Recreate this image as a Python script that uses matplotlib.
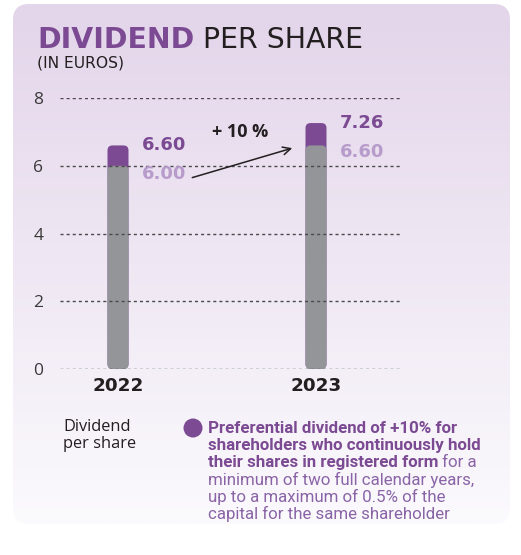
import numpy as np
import matplotlib.pyplot as plt
from matplotlib.patches import FancyBboxPatch, Circle

plt.rcParams['font.family'] = ['Open Sans', 'DejaVu Sans']
WIDE = ['DejaVu Sans']
LEG = ['Roboto', 'DejaVu Sans']

# ---------------------------
# data
# ---------------------------
years = ["2022", "2023"]
dividend = [6.00, 6.60]       # ordinary dividend per share
preferential = [6.60, 7.26]   # with +10% loyalty premium
yticks = [0, 2, 4, 6, 8]
growth_label = "+ 10 %"
legend_left = "Dividend\nper share"
legend_lines = [
    ("Preferential dividend of +10% for", ""),
    ("shareholders who continuously hold", ""),
    ("their shares in registered form", " for a"),
    ("", "minimum of two full calendar years,"),
    ("", "up to a maximum of 0.5% of the"),
    ("", "capital for the same shareholder"),
]

PURPLE = "#7b4a93"
LIGHT_PURPLE = "#b79bcb"
TEXT_PURPLE = "#8a64a6"
GREY = "#939598"
DARK = "#231f20"

W, H = 521, 555
fig = plt.figure(figsize=(W / 100, H / 100), dpi=100)

# ---------------------------
# background card with gradient
# ---------------------------
bg = fig.add_axes([0, 0, 1, 1], zorder=-5)
bg.set_xlim(0, W)
bg.set_ylim(H, 0)
bg.axis("off")
top_c = np.array([0xe3, 0xd5, 0xea]) / 255
bot_c = np.array([0xfb, 0xfa, 0xfd]) / 255
t = np.linspace(0, 1, 256)[:, None]
grad = (top_c * (1 - t) + bot_c * t)[:, None, :]
img = bg.imshow(grad, extent=[13, 510, 524, 4], aspect="auto")
card = FancyBboxPatch((13, 4), 497, 520, boxstyle="round,pad=0,rounding_size=16",
                      facecolor="none", edgecolor="none")
bg.add_patch(card)
img.set_clip_path(card)

# ---------------------------
# main chart
# ---------------------------
ax = fig.add_axes([60 / W, 1 - 369 / H, 340 / W, 271 / H])
ax.set_facecolor("none")
x = np.arange(len(years))
ax.set_xlim(-58 / 198, 1 + 84 / 198)
ax.set_ylim(0, 8)
for s in ax.spines.values():
    s.set_visible(False)
ax.set_yticks(yticks)
ax.set_yticklabels([str(v) for v in yticks])
ax.set_xticks(x)
ax.set_xticklabels(years, fontsize=13.2, fontweight="bold", color=DARK,
                   family=WIDE)
ax.tick_params(axis="y", length=0, pad=12, labelsize=12.5, labelcolor="#3a3a3a")
ax.tick_params(axis="x", length=0, pad=6)
for v in yticks:
    ax.axhline(v, color="#4a4a4a", lw=1.0, linestyle=(0, (2.2, 2.2)), zorder=3)

# rounded bars (radius in pixels -> data units)
fig.canvas.draw()
px_x = (ax.get_xlim()[1] - ax.get_xlim()[0]) / ax.bbox.width
px_y = (ax.get_ylim()[1] - ax.get_ylim()[0]) / ax.bbox.height
bw = 21 * px_x
r = 5 * px_x
aspect = px_y / px_x


def rbar(xc, top, color, z):
    p = FancyBboxPatch((xc - bw / 2, 0), bw, top,
                       boxstyle=f"round,pad=0,rounding_size={r}",
                       mutation_aspect=aspect, facecolor=color,
                       edgecolor="none", zorder=z)
    ax.add_patch(p)


for i in range(len(years)):
    rbar(x[i], preferential[i], PURPLE, 1)
    rbar(x[i], dividend[i], GREY, 2)
    ax.annotate(f"{preferential[i]:.2f}", (x[i], preferential[i]),
                xytext=(24, 0), textcoords="offset pixels",
                ha="left", va="center", fontsize=13, fontweight="bold",
                color=PURPLE, family=WIDE)
    ax.annotate(f"{dividend[i]:.2f}", (x[i], preferential[i]),
                xytext=(24, -29), textcoords="offset pixels",
                ha="left", va="center", fontsize=13, fontweight="bold",
                color=LIGHT_PURPLE, family=WIDE)

# growth arrow
ax.annotate("", xy=(x[1] - 0.12, dividend[1] - 0.08),
            xytext=(x[0] + 0.375, dividend[0] - 0.35),
            arrowprops=dict(arrowstyle="->", color=DARK, lw=1.1,
                            mutation_scale=14, shrinkA=0, shrinkB=0))
ax.text((x[0] + x[1]) / 2 + 0.115, 7.0, growth_label, ha="center", va="center",
        fontsize=13, fontweight="bold", color=DARK)

# ---------------------------
# title
# ---------------------------
def after(t1, s, **kw):
    fig.canvas.draw()
    bb = t1.get_window_extent()
    return fig.text(bb.x1 / W, t1.get_position()[1], s, **kw)


t1 = fig.text(37 / W, 1 - 48 / H, "DIVIDEND", fontsize=20.4, fontweight="bold",
              color=PURPLE, va="baseline", family=WIDE)
after(t1, " PER SHARE", fontsize=20.4, color=DARK, va="baseline", family=WIDE)
fig.text(37 / W, 1 - 67 / H, "(IN EUROS)", fontsize=11.2, color=DARK,
         va="baseline", family=WIDE)

# ---------------------------
# legend block
# ---------------------------
fig.text(63 / W, 1 - 419 / H, legend_left, fontsize=11.8, color=DARK, va="top",
         linespacing=1.05)
bg.add_patch(Circle((193, 428), 9.5, facecolor=PURPLE, edgecolor="none"))
y0 = 433
for k, (b, n) in enumerate(legend_lines):
    yy = 1 - (y0 + k * 17.2) / H
    if b:
        tb = fig.text(208 / W, yy, b, fontsize=12.2, fontweight="bold",
                      color=PURPLE, va="baseline", family=LEG)
        if n:
            after(tb, n, fontsize=12.2, color=TEXT_PURPLE, va="baseline",
                  family=LEG)
    else:
        fig.text(208 / W, yy, n, fontsize=12.2, color=TEXT_PURPLE,
                 va="baseline", family=LEG)

fig.savefig("out.png", dpi=100)
